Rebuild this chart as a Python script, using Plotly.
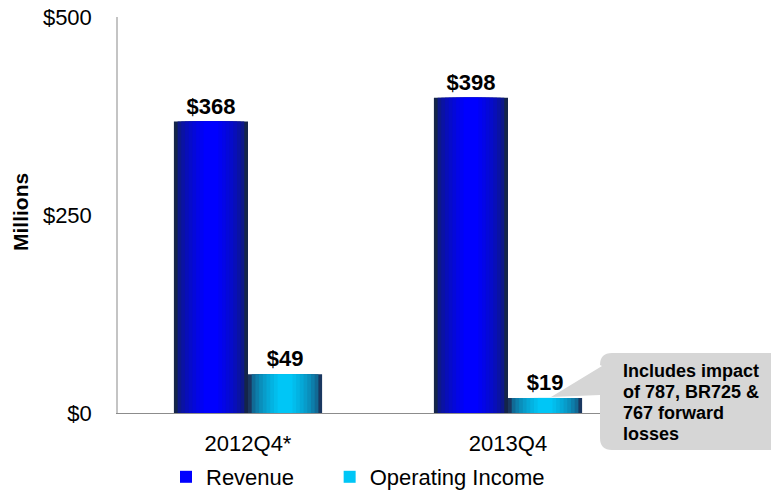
import plotly.graph_objects as go

categories = ["2012Q4*", "2013Q4"]
revenue = [368, 398]
operating_income = [49, 19]
y_ticks = [0, 250, 500]
y_tick_labels = ["$0", "$250", "$500"]
legend_names = ["Revenue", "Operating Income"]
callout_lines = ["Includes impact", "of 787, BR725 &", "767 forward", "losses"]

W, H = 771, 492
# plot area in window pixels
L, R, T, B = 118, 638, 17, 413
FONT = "Arial, Liberation Sans, sans-serif"


def px(x):
    return (x - L) / (R - L)


def py(y):
    return (B - y) / (B - T)


def mix(c1, c2, t):
    a = [int(c1[i:i + 2], 16) for i in (1, 3, 5)]
    b = [int(c2[i:i + 2], 16) for i in (1, 3, 5)]
    return "#" + "".join(f"{round(a[k] + (b[k] - a[k]) * t):02x}" for k in range(3))


def layers(edge, center, n=9):
    out = []
    for i in range(n):
        frac = 1.0 - i * (0.8 / (n - 1))
        t = (i / (n - 1)) ** 0.5
        out.append((frac, mix(edge, center, t)))
    return out


bar_w = 0.285
rev_layers = layers("#14254a", "#0000ff")
op_layers = layers("#1a3760", "#00c6f6")

fig = go.Figure()


def add_series(values, lay, center, name, rank):
    for i, (frac, col) in enumerate(lay):
        w = bar_w * frac
        first = i == 0
        last = i == len(lay) - 1
        fig.add_trace(go.Bar(
            x=categories, y=values, name=name,
            width=[w] * len(categories),
            offset=[center - w / 2] * len(categories),
            marker=dict(color=col, line=dict(width=0)),
            text=[f"${v}" for v in values] if first else None,
            textposition="outside" if first else "none",
            textfont=dict(family=FONT, size=22, color="black", weight="bold"),
            cliponaxis=False,
            showlegend=last,
            legendrank=rank,
            hoverinfo="skip",
        ))


add_series(revenue, rev_layers, -bar_w / 2, legend_names[0] + "\u00a0" * 5, 1)
add_series(operating_income, op_layers, bar_w / 2, legend_names[1], 2)

# callout bubble with rounded corners and pointer
bx0, bx1, by0, by1, r = 600, 784, 353, 450, 12
path = (
    f"M {px(bx0 + r)},{py(by0)} L {px(bx1 - r)},{py(by0)} "
    f"Q {px(bx1)},{py(by0)} {px(bx1)},{py(by0 + r)} L {px(bx1)},{py(by1 - r)} "
    f"Q {px(bx1)},{py(by1)} {px(bx1 - r)},{py(by1)} L {px(bx0 + r)},{py(by1)} "
    f"Q {px(bx0)},{py(by1)} {px(bx0)},{py(by1 - r)} L {px(bx0)},{py(395)} "
    f"L {px(551)},{py(397)} L {px(bx0 + 2)},{py(366)} L {px(bx0)},{py(by0 + r)} "
    f"Q {px(bx0)},{py(by0)} {px(bx0 + r)},{py(by0)} Z"
)
fig.add_shape(type="path", path=path, xref="paper", yref="paper",
              fillcolor="#d6d6d6", line=dict(width=0), layer="above")

for k, line in enumerate(callout_lines):
    fig.add_annotation(
        text=f"<b>{line}</b>", xref="paper", yref="paper",
        x=px(621), y=py(371 + 21 * k), xanchor="left", yanchor="middle",
        showarrow=False, align="left",
        font=dict(family=FONT, size=18, color="black"),
    )

fig.add_annotation(
    text="<b>Millions</b>", xref="paper", yref="paper",
    x=px(20), y=py(212), xanchor="center", yanchor="middle",
    textangle=-90, showarrow=False,
    font=dict(family=FONT, size=21, color="black"),
)

fig.update_layout(
    width=W, height=H,
    margin=dict(l=L, r=W - R, t=T, b=H - B, pad=0, autoexpand=False),
    paper_bgcolor="white", plot_bgcolor="white",
    barmode="overlay",
    font=dict(family=FONT, color="black"),
    xaxis=dict(
        type="category", range=[-0.5, 1.5], showgrid=False, zeroline=False,
        showline=True, linecolor="#8c8c8c", linewidth=1,
        tickfont=dict(size=22, family=FONT), ticklabelstandoff=11,
        ticklabeloverflow="allow",
        automargin=False, fixedrange=True,
    ),
    yaxis=dict(
        range=[0, 500], tickvals=y_ticks, ticktext=y_tick_labels,
        showgrid=False, zeroline=False, showline=True, linecolor="#c4c4c4",
        linewidth=1.5, tickfont=dict(size=22, family=FONT), ticklabelstandoff=20,
        ticklabeloverflow="allow",
        automargin=False,
    ),
    legend=dict(
        orientation="h", x=px(166), xanchor="left", y=py(477), yanchor="middle",
        font=dict(size=22, family=FONT), itemwidth=30,
        bgcolor="rgba(0,0,0,0)",
    ),
    showlegend=True,
)

fig.write_html(
    "out.html",
    config={"displayModeBar": False},
    post_script="document.body.style.margin='0';document.body.style.overflow='hidden';",
)
